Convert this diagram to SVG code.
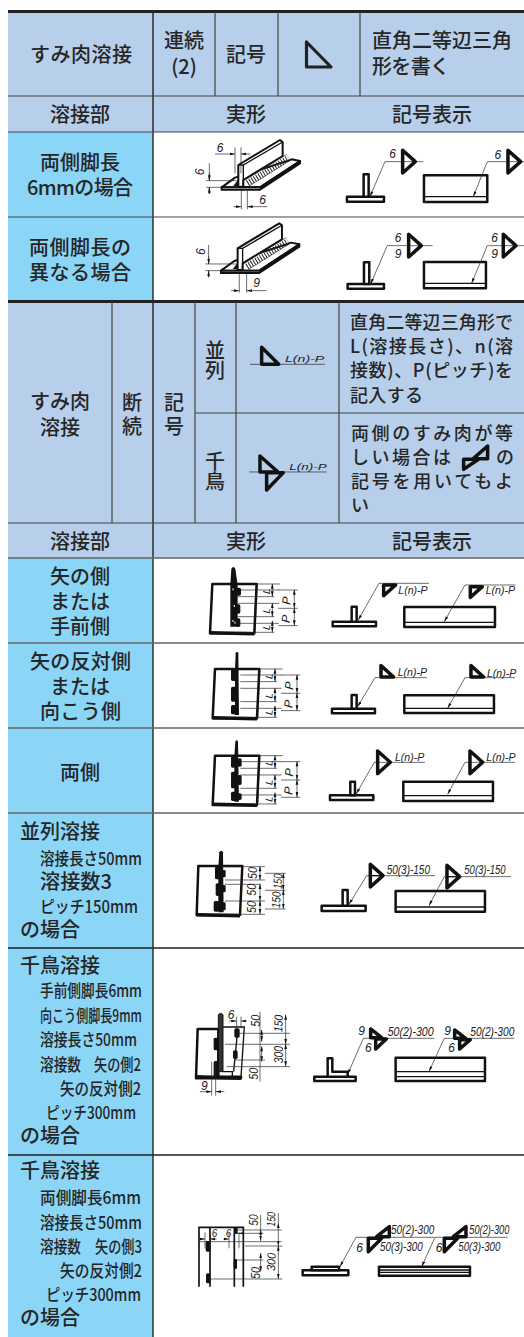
<svg xmlns="http://www.w3.org/2000/svg" xmlns:xlink="http://www.w3.org/1999/xlink" width="524" height="1337" viewBox="0 0 524 1337">
<style>
.t{font-family:"Noto Sans CJK JP","Noto Sans",sans-serif;font-size:20px;font-weight:500;fill:#262626}
.v{writing-mode:vertical-rl}
.n{font-size:17px}
.q{font-size:18px}
.m{text-anchor:middle}
.h{fill:#b8cfeb}.b{fill:#8bd5f7}
.ln{stroke:#444;stroke-width:1.2;fill:none}
.dk{stroke:#222;stroke-width:1.4;fill:none}
.w{fill:#fff;stroke:#111;stroke-width:7.500;stroke-linejoin:round}
.o{fill:none;stroke:#111;stroke-width:4}
.k{fill:none;stroke:#111;stroke-width:10.500;stroke-linejoin:round}
.f{fill:none;stroke:#222;stroke-width:2}
.bd{fill:#111}
.a{fill:none;stroke:#222;stroke-width:2;marker-end:url(#ar)}
.aa{fill:none;stroke:#222;stroke-width:2;marker-end:url(#ar);marker-start:url(#as)}
.i{font-family:"Liberation Sans",sans-serif;font-style:italic;font-size:36px;fill:#222}
.s{font-family:"Liberation Sans",sans-serif;font-style:italic;font-size:30px;fill:#222}
</style>
<defs>
<marker id="ar" markerUnits="userSpaceOnUse" markerWidth="18" markerHeight="10" refX="16" refY="5" orient="auto"><path d="M0 1L16 5L0 9Z" fill="#111"/></marker>
<marker id="as" markerUnits="userSpaceOnUse" markerWidth="18" markerHeight="10" refX="2" refY="5" orient="auto"><path d="M16 1L0 5L16 9Z" fill="#111"/></marker>
<g id="iso">
<path class="w" style="stroke-width:6" d="M125 172L165 143L325 92L335 88L360 93L240 172Z"/>
<path class="w" style="stroke-width:6" d="M125 172H240L360 93V100L240 179H125Z"/>
<path class="w" style="stroke-width:6" d="M175 170V105L300 30L308 36V78L190 150V170Z"/>
<path class="o" d="M175 105H190L308 36M190 105V170"/>
<path fill="none" stroke="#222" stroke-width="19" stroke-dasharray="3 5" d="M203 160L326 84"/>
<path class="f" d="M195 150L320 73M208 168L332 90"/>
<path fill="#111" d="M160 168L175 148V168Z"/>
</g>
<g id="tri"><path class="k" d="M0 -34V34L38 0Z"/></g>
<g id="plate">
<path class="w" d="M172 87H305L298 235H165Z"/>
<path class="k" d="M165 233L298 236"/>
<path class="f" d="M248 105H372M248 125H358M248 145H372M248 185H358M248 205H372M248 232H358M298 87H375"/>
<path fill="none" stroke="#111" stroke-width="5" stroke-dasharray="5 3" d="M305 92L299 230"/>
<path class="aa" d="M352 87V125"/><path class="aa" d="M352 145V185"/><path class="aa" d="M352 198V232"/>
<path class="aa" d="M418 105V160"/><path class="aa" d="M418 160V212"/>
<path class="f" d="M370 160H428M370 212H428M370 105H428"/>
<text class="s" transform="translate(344 118) rotate(-85)">L</text>
<text class="s" transform="translate(344 176) rotate(-85)">L</text>
<text class="s" transform="translate(344 226) rotate(-85)">L</text>
<text class="i" transform="translate(406 150) rotate(-85)">P</text>
<text class="i" transform="translate(404 205) rotate(-85)">P</text>
</g>
<g id="lp"><text class="s" textLength="88" lengthAdjust="spacingAndGlyphs">L(n)-P</text></g>
</defs>

<rect width="524" height="1337" fill="#fff"/>
<g id="backgrounds">
<rect class="h" x="8" y="12" width="516" height="120"/>
<rect class="b" x="8" y="132" width="145" height="169"/>
<rect class="h" x="8" y="302" width="516" height="256"/>
<rect class="b" x="8" y="558" width="145" height="779"/>
</g>
<g id="grid">
<path d="M8 11.500H524M8 301.500H524" stroke="#222" stroke-width="3"/>
<path class="dk" d="M153 12V301M153 302V1337"/>
<path class="ln" d="M215 12V96M278 12V96M360 12V96M8 96H524M8 132H524M8 217H524"/>
<path class="ln" d="M112 302V523M195 302V523M236 302V523M339 302V523M195 413H524M8 523H524"/>
<path stroke="#666" stroke-width="1.6" d="M8 558H524M8 643H524M8 728H524M8 813H524"/>
<path class="dk" d="M8 948H524M8 1155H524"/>
</g>

<g id="texts-top">
<text class="t" x="30" y="62" textLength="102">すみ肉溶接</text>
<text class="t m"><tspan x="184" y="48">連続</tspan><tspan x="184" y="74">(2)</tspan></text>
<text class="t" x="226" y="62">記号</text>
<text class="t"><tspan x="372" y="48" textLength="140">直角二等辺三角</tspan><tspan x="372" y="74" textLength="78">形を書く</tspan></text>
<text class="t" x="50" y="122">溶接部</text>
<text class="t" x="226" y="122">実形</text>
<text class="t" x="392" y="122">記号表示</text>
<text class="t m"><tspan x="80" y="170">両側脚長</tspan><tspan x="80" y="195" textLength="106">6mmの場合</tspan></text>
<text class="t"><tspan x="29" y="255" textLength="102">両側脚長の</tspan><tspan x="29" y="280" textLength="102">異なる場合</tspan></text>
</g>
<path id="sym-main" d="M306.500 42V67H331L306.500 42Z" fill="none" stroke="#222" stroke-width="3.200" stroke-linejoin="round"/>

<g id="texts-mid">
<text class="t"><tspan x="30" y="409">すみ肉</tspan><tspan x="40" y="435">溶接</tspan></text>
<text class="t v" x="132" y="392" letter-spacing="4">断続</text>
<text class="t v" x="174" y="392" letter-spacing="4">記号</text>
<text class="t v" x="215" y="340">並列</text>
<text class="t v" x="215" y="451">千鳥</text>
<text class="t q"><tspan x="350" y="329" textLength="163">直角二等辺三角形で</tspan><tspan x="350" y="353" textLength="163">L(溶接長さ)、n(溶</tspan><tspan x="350" y="377" textLength="163">接数)、P(ピッチ)を</tspan><tspan x="350" y="402" textLength="73">記入する</tspan></text>
<text class="t q"><tspan x="351" y="440" textLength="162">両側のすみ肉が等</tspan><tspan x="351" y="464" textLength="100">しい場合は</tspan><tspan x="496" y="464">の</tspan><tspan x="351" y="488" textLength="162">記号を用いてもよ</tspan><tspan x="351" y="512">い</tspan></text>
<text class="t" x="50" y="549">溶接部</text>
<text class="t" x="226" y="549">実形</text>
<text class="t" x="392" y="549">記号表示</text>
<text class="t"><tspan x="50" y="584">矢の側</tspan><tspan x="50" y="609">または</tspan><tspan x="50" y="634">手前側</tspan></text>
<text class="t"><tspan x="30" y="669" textLength="101">矢の反対側</tspan><tspan x="50" y="694">または</tspan><tspan x="40" y="719" textLength="81">向こう側</tspan></text>
<text class="t" x="60" y="780">両側</text>
</g>

<g id="texts-left">
<text class="t" x="20" y="839">並列溶接</text>
<text class="t n" x="40" y="865" textLength="102" lengthAdjust="spacingAndGlyphs">溶接長さ50mm</text>
<text class="t" x="40" y="889" textLength="72" lengthAdjust="spacingAndGlyphs">溶接数3</text>
<text class="t n" x="40" y="913" textLength="98" lengthAdjust="spacingAndGlyphs">ピッチ150mm</text>
<text class="t" x="20" y="937">の場合</text>
<text class="t" x="20" y="973">千鳥溶接</text>
<text class="t n" x="40" y="997" textLength="102" lengthAdjust="spacingAndGlyphs">手前側脚長6mm</text>
<text class="t n" x="40" y="1022" textLength="102" lengthAdjust="spacingAndGlyphs">向こう側脚長9mm</text>
<text class="t n" x="40" y="1046" textLength="97" lengthAdjust="spacingAndGlyphs">溶接長さ50mm</text>
<text class="t n" x="40" y="1071" textLength="41" lengthAdjust="spacingAndGlyphs">溶接数</text>
<text class="t n" x="94" y="1071" textLength="47" lengthAdjust="spacingAndGlyphs">矢の側2</text>
<text class="t n" x="60" y="1095" textLength="81" lengthAdjust="spacingAndGlyphs">矢の反対側2</text>
<text class="t n" x="46" y="1119" textLength="90" lengthAdjust="spacingAndGlyphs">ピッチ300mm</text>
<text class="t" x="20" y="1143">の場合</text>
<text class="t" x="20" y="1178">千鳥溶接</text>
<text class="t n" x="40" y="1204" textLength="101" lengthAdjust="spacingAndGlyphs">両側脚長6mm</text>
<text class="t n" x="40" y="1229" textLength="102" lengthAdjust="spacingAndGlyphs">溶接長さ50mm</text>
<text class="t n" x="40" y="1253" textLength="41" lengthAdjust="spacingAndGlyphs">溶接数</text>
<text class="t n" x="95" y="1253" textLength="47" lengthAdjust="spacingAndGlyphs">矢の側3</text>
<text class="t n" x="60" y="1277" textLength="82" lengthAdjust="spacingAndGlyphs">矢の反対側2</text>
<text class="t n" x="46" y="1301" textLength="95" lengthAdjust="spacingAndGlyphs">ピッチ300mm</text>
<text class="t" x="20" y="1325">の場合</text>
</g>

<g id="real-6" transform="translate(180 130) scale(.3333)">
<use href="#iso"/>
<path class="f" d="M78 172H170M78 152H170M88 100V152M88 172V192M165 52V130M183 52V130M184 180V238M202 180V238"/>
<path class="a" d="M105 72H165"/><path class="a" d="M262 230H202"/><path class="a" d="M160 230H184"/><path class="a" d="M88 128V152"/><path class="a" d="M88 192V172"/><path class="a" d="M212 72H183"/>
<text class="i" x="110" y="65">6</text><text class="i" x="238" y="222">6</text>
<text class="i" transform="translate(72 136) rotate(-90)">6</text>
</g>
<g id="real-9" transform="translate(179.300 213.300) scale(.3333)">
<use href="#iso"/>
<path class="f" d="M78 172H170M78 152H170M88 95V152M88 172V192M180 180V238M202 180V238"/>
<path class="a" d="M88 128V152"/><path class="a" d="M88 192V172"/><path class="a" d="M155 232H180"/><path class="a" d="M262 232H202"/>
<text class="i" x="222" y="222">9</text>
<text class="i" transform="translate(76 125) rotate(-90)">6</text>
</g>

<g id="sym-6" transform="scale(.3333)">
<path class="w" d="M1041 590H1152V605H1041Z"/><path class="w" d="M1091 523H1106V590H1091Z"/>
<path class="f" d="M1270 485H1155"/><path class="a" d="M1155 485L1110 590"/>
<use href="#tri" x="1208" y="485"/><text class="i" x="1168" y="475">6</text>
<path class="w" d="M1272 526H1462V606H1272Z"/><path class="o" d="M1272 590H1462"/>
<path class="f" d="M1572 485H1462"/><path class="a" d="M1462 485L1420 590"/>
<use href="#tri" x="1524" y="485"/><text class="i" x="1484" y="478">6</text>
</g>
<g id="sym-9" transform="scale(.3333)">
<path class="w" d="M1043 852H1152V866H1043Z"/><path class="w" d="M1092 787H1108V852H1092Z"/>
<path class="f" d="M1298 737H1162"/><path class="a" d="M1162 737L1112 852"/>
<use href="#tri" x="1226" y="737"/><text class="i" x="1184" y="725">6</text><text class="i" x="1184" y="775">9</text>
<path class="w" d="M1272 786H1458V865H1272Z"/><path class="o" d="M1272 850H1458"/>
<path class="f" d="M1572 737H1462"/><path class="a" d="M1462 737L1415 850"/>
<use href="#tri" x="1510" y="737"/><text class="i" x="1474" y="725">6</text><text class="i" x="1474" y="775">9</text>
</g>

<g id="sym-parallel" transform="translate(0 300) scale(.3333)">
<path class="f" d="M750 193H975"/><path class="k" d="M785 142V193H836Z"/>
<text class="s" x="855" y="186" style="font-size:26px" textLength="118" lengthAdjust="spacingAndGlyphs">L(n)-P</text>
</g>
<g id="sym-stagger" transform="translate(0 300) scale(.3333)">
<path class="f" d="M748 516H980"/><path class="k" d="M780 468V516H834Z"/><path class="k" d="M800 570V518H850Z"/>
<text class="s" x="868" y="511" style="font-size:26px" textLength="112" lengthAdjust="spacingAndGlyphs">L(n)-P</text>
<path class="k" d="M1391 508V478H1436ZM1420 476L1463 438V476Z"/>
</g>

<g id="row-arrow" transform="translate(155 555) scale(.3333)">
<use href="#plate"/>
<path class="bd" d="M226 90L229 42Q235 30 241 42L248 90V215H226Z"/>
<rect class="bd" x="244" y="98" width="14" height="24" rx="5"/><rect class="bd" x="244" y="148" width="12" height="28" rx="5"/><rect class="bd" x="244" y="190" width="12" height="26" rx="5"/>
<path d="M234 100v6M238 150v6M234 195v6M240 200v6" stroke="#fff" stroke-width="3"/>
<path class="w" d="M533 200H663V214H533Z"/><path class="w" d="M590 155H605V200H590Z"/>
<path class="f" d="M672 85H822"/><path class="a" d="M672 85L610 195"/>
<path class="k" d="M686 90H722L686 122Z"/><use href="#lp" x="730" y="116"/>
<path class="w" d="M748 156H1020V216H748Z"/><path class="o" d="M748 202H1020"/>
<path class="f" d="M930 90H1082"/><path class="a" d="M930 90L868 200"/>
<path class="k" d="M946 95H982L946 127Z"/><use href="#lp" x="992" y="116"/>
</g>
<g id="row-other" transform="translate(155 555) scale(.3333)">
<use href="#plate" x="8" y="255"/>
<path class="bd" d="M240 345L242 295Q246 285 250 295L252 480H240Z"/>
<rect class="bd" x="228" y="340" width="16" height="38" rx="5"/><rect class="bd" x="228" y="395" width="16" height="45" rx="5"/><rect class="bd" x="228" y="450" width="16" height="28" rx="5"/>
<path class="w" d="M531 461H660V475H531Z"/><path class="w" d="M590 420H605V461H590Z"/>
<path class="f" d="M660 368H816"/><path class="a" d="M660 368L608 455"/>
<path class="k" d="M678 332V366H716Z"/><use href="#lp" x="728" y="364"/>
<path class="w" d="M748 421H1017V474H748Z"/><path class="o" d="M748 460H1017"/>
<path class="f" d="M930 368H1080"/><path class="a" d="M930 368L878 460"/>
<path class="k" d="M948 332V366H986Z"/><use href="#lp" x="996" y="366"/>
</g>
<g id="row-both" transform="translate(155 555) scale(.3333)">
<use href="#plate" x="8" y="515"/>
<path class="bd" d="M238 605L241 560Q245 550 249 560L252 740H238Z"/>
<rect class="bd" x="228" y="600" width="14" height="38" rx="5"/><rect class="bd" x="228" y="650" width="14" height="50" rx="5"/><rect class="bd" x="228" y="710" width="14" height="28" rx="5"/>
<rect class="bd" x="248" y="610" width="12" height="25" rx="5"/><rect class="bd" x="248" y="660" width="12" height="30" rx="5"/><rect class="bd" x="248" y="715" width="12" height="20" rx="5"/>
<path class="w" d="M525 721H655V735H525Z"/><path class="w" d="M586 680H600V721H586Z"/>
<path class="f" d="M658 622H810"/><path class="a" d="M658 622L604 716"/>
<use href="#tri" x="668" y="622"/><use href="#lp" x="720" y="618"/>
<path class="w" d="M745 680H1014V738H745Z"/><path class="o" d="M745 722H1014"/>
<path class="f" d="M930 622H1080"/><path class="a" d="M930 622L878 718"/>
<use href="#tri" x="945" y="622"/><use href="#lp" x="994" y="618"/>
</g>

<g id="row-parallel-ex" transform="translate(155 815) scale(.3333)">
<path class="w" d="M130 153H262L255 300H125Z"/><path class="k" d="M125 299L255 302"/>
<path class="bd" d="M190 155L193 112Q198 102 204 112L206 292H190Z"/>
<rect class="bd" x="180" y="155" width="14" height="38" rx="5"/><rect class="bd" x="182" y="205" width="12" height="38" rx="5"/><rect class="bd" x="176" y="258" width="16" height="32" rx="5"/>
<rect class="bd" x="202" y="165" width="10" height="22" rx="4"/><rect class="bd" x="202" y="210" width="10" height="22" rx="4"/><rect class="bd" x="202" y="262" width="10" height="24" rx="4"/>
<path class="f" d="M210 155H330M210 195H330M210 208H318M210 258H330M210 298H330"/>
<path class="f" d="M330 175H392M330 226H392M330 282H392"/>
<path class="aa" d="M315 155V195"/><path class="aa" d="M315 208V258"/><path class="aa" d="M315 258V298"/>
<path class="aa" d="M385 175V226"/><path class="aa" d="M385 226V282"/>
<text class="i" transform="translate(305 192) rotate(-90)" textLength="36" lengthAdjust="spacingAndGlyphs">50</text>
<text class="i" transform="translate(303 242) rotate(-90)" textLength="36" lengthAdjust="spacingAndGlyphs">50</text>
<text class="i" transform="translate(303 294) rotate(-90)" textLength="36" lengthAdjust="spacingAndGlyphs">50</text>
<text class="i" transform="translate(380 222) rotate(-88)" textLength="46" lengthAdjust="spacingAndGlyphs">150</text>
<text class="i" transform="translate(375 280) rotate(-88)" textLength="50" lengthAdjust="spacingAndGlyphs">150</text>
<path class="w" d="M500 272H632V288H500Z"/><path class="w" d="M563 225H578V272H563Z"/>
<path class="f" d="M635 182H840"/><path class="a" d="M635 182L582 268"/>
<use href="#tri" x="646" y="182"/><path class="o" d="M646 182H680"/>
<text class="i" x="695" y="177" textLength="130" lengthAdjust="spacingAndGlyphs">50(3)-150</text>
<path class="w" d="M722 228H990V290H722Z"/><path class="o" d="M722 276H990"/>
<path class="f" d="M868 185H1068"/><path class="a" d="M868 185L822 272"/>
<use href="#tri" x="876" y="185"/><path class="o" d="M876 185H908"/>
<text class="i" x="928" y="177" textLength="124" lengthAdjust="spacingAndGlyphs">50(3)-150</text>
</g>

<g id="row-stagger9-ex" transform="translate(155 815) scale(.3333)">
<path class="w" d="M128 642H190V785H258V790H123Z"/><path class="k" d="M123 785L258 790"/>
<path d="M190 600Q197 590 204 600V770H190Z" fill="#333" stroke="#111" stroke-width="3"/>
<path class="o" d="M204 636H268L258 786H232V770H204"/>
<path class="o" d="M248 645L236 770"/>
<rect class="bd" x="176" y="668" width="16" height="38" rx="5"/><rect class="bd" x="176" y="738" width="16" height="50" rx="5"/><rect class="bd" x="238" y="640" width="16" height="28" rx="5"/><rect class="bd" x="234" y="706" width="14" height="26" rx="5"/>
<path class="f" d="M240 655H405M210 688H405M240 735H330M215 755H405M315 590V800"/>
<path class="aa" d="M320 645V680"/><path class="aa" d="M320 695V740"/><path class="aa" d="M392 600V688"/><path class="aa" d="M392 688V755"/>
<path class="f" d="M245 605V640M258 605V640M170 740V842M182 740V842"/>
<path class="a" d="M222 618H245"/><path class="a" d="M275 618H258"/><path class="a" d="M135 830H170"/><path class="a" d="M208 830H182"/>
<text class="i" x="218" y="612">6</text><text class="i" x="138" y="825">9</text>
<text class="i" transform="translate(314 635) rotate(-90)" textLength="36" lengthAdjust="spacingAndGlyphs">50</text>
<text class="i" transform="translate(308 794) rotate(-90)" textLength="36" lengthAdjust="spacingAndGlyphs">50</text>
<text class="i" transform="translate(382 652) rotate(-88)" textLength="52" lengthAdjust="spacingAndGlyphs">150</text>
<text class="i" transform="translate(384 745) rotate(-90)" textLength="52" lengthAdjust="spacingAndGlyphs">300</text>
<path class="w" d="M478 785H602V798H478Z"/><path class="w" d="M518 730H532V770H578V785H518Z"/>
<path class="f" d="M625 670H838"/><path class="a" d="M625 670L578 778"/>
<path class="k" d="M647 642V668H680ZM662 672H694L662 702Z"/>
<text class="i" x="610" y="660">9</text><text class="i" x="630" y="712">6</text>
<text class="i" x="698" y="662" textLength="138" lengthAdjust="spacingAndGlyphs">50(2)-300</text>
<path class="w" d="M722 728H990V798H722Z"/><path class="o" d="M722 770H990M722 785H990"/>
<path class="f" d="M868 670H1078"/><path class="a" d="M868 670L822 770"/>
<path class="k" d="M899 645V670H932ZM914 674H946L914 702Z"/>
<text class="i" x="868" y="660">9</text><text class="i" x="880" y="712">6</text>
<text class="i" x="946" y="662" textLength="132" lengthAdjust="spacingAndGlyphs">50(2)-300</text>
</g>

<g id="row-stagger6-ex" transform="translate(155 1155) scale(.3333)">
<path fill="none" stroke="#111" stroke-width="5" d="M132 395V217H265V395M165 217V395M238 217V395"/>
<path class="f" d="M165 260H380M238 315H325M165 372H382M240 225H380M240 235H325M132 260H165"/>
<rect class="bd" x="152" y="258" width="14" height="32" rx="5"/><rect class="bd" x="238" y="217" width="10" height="20" rx="2"/><rect class="bd" x="236" y="312" width="10" height="30" rx="4"/><rect class="bd" x="153" y="355" width="13" height="30" rx="5"/>
<path class="f" d="M150 232V280M165 232V280M222 232V280M238 232V280M252 232V280"/>
<path class="a" d="M132 252H150"/><path class="a" d="M185 252H165"/><path class="a" d="M205 252H222"/><path class="a" d="M262 235H252"/>
<text class="s" x="170" y="247">6</text><text class="s" x="212" y="247">6</text>
<path class="aa" d="M317 225V258"/><path class="aa" d="M317 295V350"/><path class="aa" d="M370 205V273"/><path class="aa" d="M370 273V372"/>
<path class="f" d="M317 180V225M370 175V205M270 273H382"/>
<text class="i" transform="translate(308 212) rotate(-90)" textLength="34" lengthAdjust="spacingAndGlyphs">50</text>
<text class="i" transform="translate(314 372) rotate(-90)" textLength="36" lengthAdjust="spacingAndGlyphs">50</text>
<text class="i" transform="translate(360 215) rotate(-88)" textLength="44" lengthAdjust="spacingAndGlyphs">150</text>
<text class="i" transform="translate(360 348) rotate(-88)" textLength="54" lengthAdjust="spacingAndGlyphs">300</text>
<path class="w" d="M443 346H580V361H443Z"/><path class="w" d="M470 335H552V346H470Z"/>
<path class="f" d="M603 247H838"/><path class="a" d="M603 247L555 335"/>
<path class="k" d="M640 250H680L640 290ZM665 245L703 215V245Z"/>
<text class="i" x="604" y="290">6</text>
<text class="i" x="708" y="237" textLength="130" lengthAdjust="spacingAndGlyphs">50(2)-300</text>
<text class="i" x="675" y="288" textLength="128" lengthAdjust="spacingAndGlyphs">50(3)-300</text>
<path class="w" d="M672 335H945V362H672Z"/><path class="o" d="M672 345H945M672 352H945"/>
<path class="f" d="M840 247H1058"/><path class="a" d="M840 247L800 335"/>
<path class="k" d="M868 250H908L868 290ZM895 245L933 215V245Z"/>
<text class="i" x="842" y="290">6</text>
<text class="i" x="943" y="237" textLength="120" lengthAdjust="spacingAndGlyphs">50(2)-300</text>
<text class="i" x="910" y="288" textLength="126" lengthAdjust="spacingAndGlyphs">50(3)-300</text>
</g>
</svg>
